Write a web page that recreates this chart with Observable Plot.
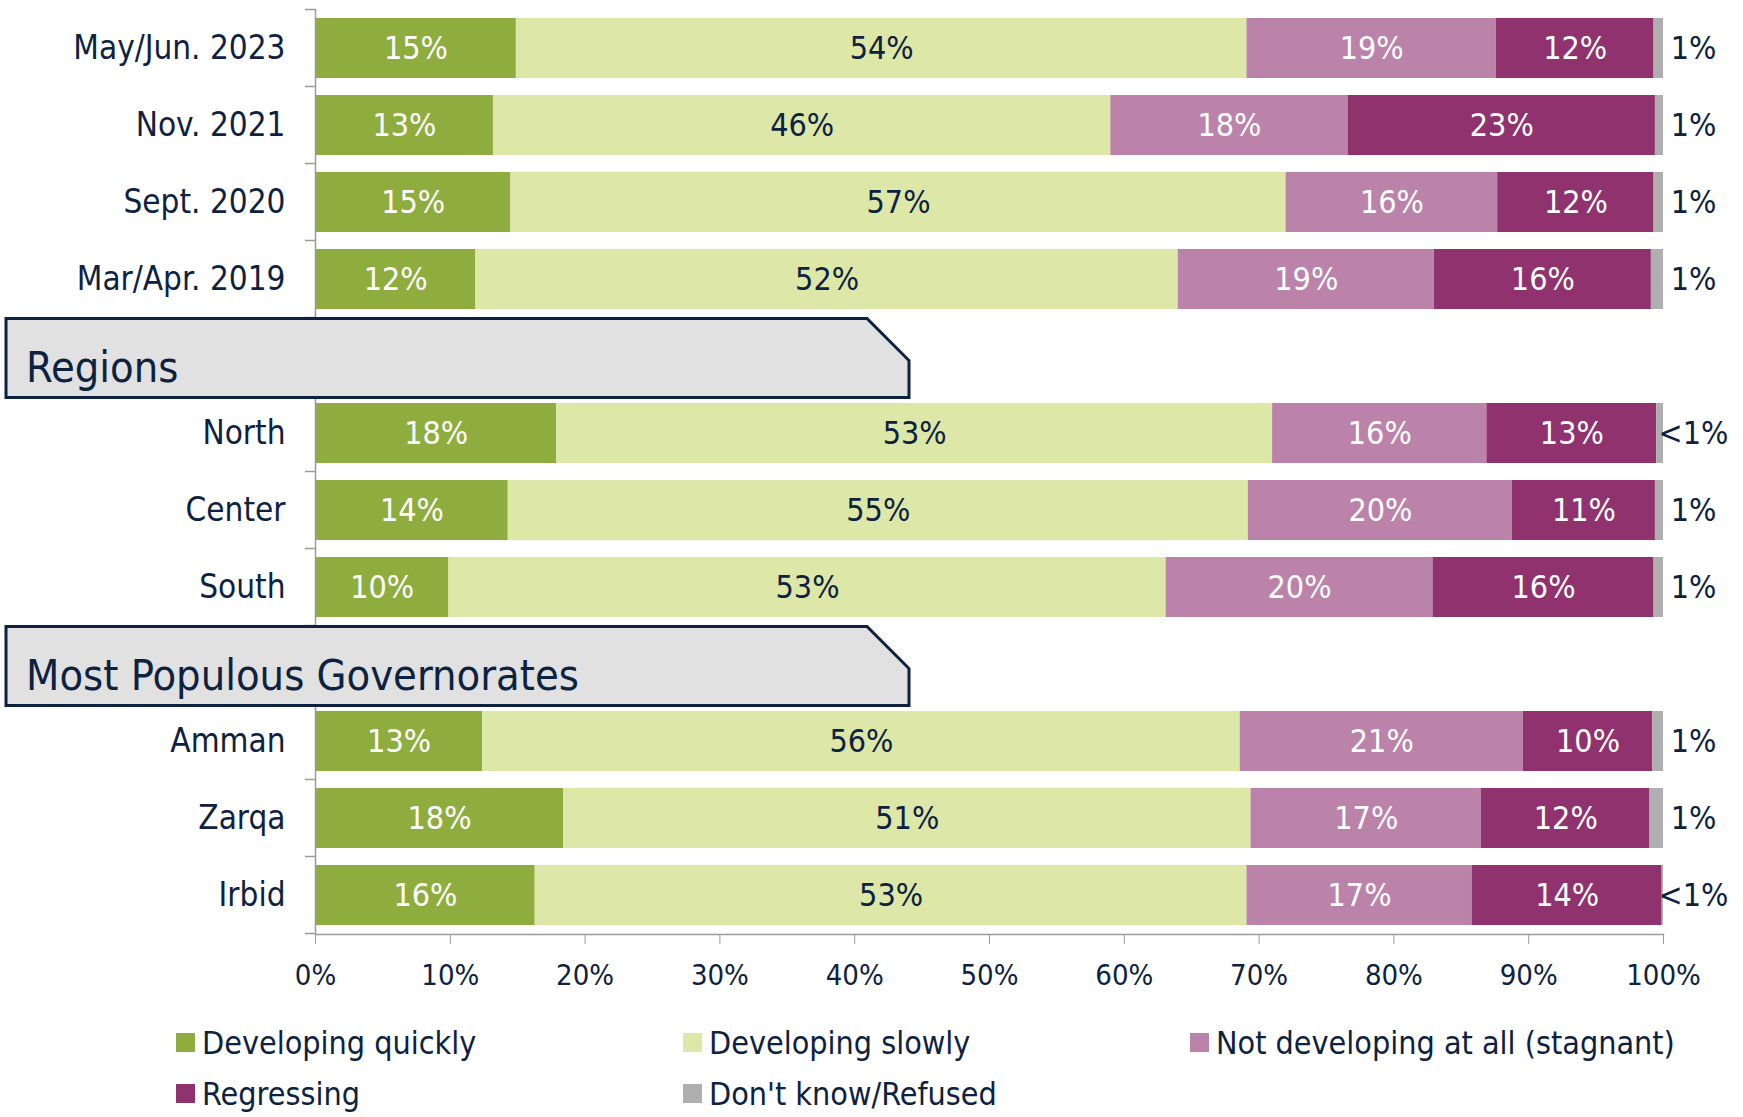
<!DOCTYPE html>
<html>
<head>
<meta charset="utf-8">
<script src="https://cdn.jsdelivr.net/npm/d3@7"></script>
<script src="https://cdn.jsdelivr.net/npm/@observablehq/plot@0.6"></script>
<style>
  html, body { margin: 0; padding: 0; background: #fff; }
  body { width: 1743px; height: 1117px; overflow: hidden; font-family: "Liberation Sans Narrow", "DejaVu Sans Condensed", sans-serif; color: #0d2240; }
  #legend { display: grid; grid-template-columns: 507px 507px 507px; grid-auto-rows: 51px; padding-left: 176px; padding-top: 12px; }
  .item { display: flex; align-items: center; font-size: 32px; color: #0d2240; white-space: nowrap; }
  .sw { width: 19px; height: 19px; margin-right: 7px; flex: none; }
</style>
</head>
<body>
<div id="chart"></div>
<div id="legend"></div>
<script>
// Row order (top to bottom); header slots included as band positions
const rows = ["May/Jun. 2023", "Nov. 2021", "Sept. 2020", "Mar/Apr. 2019",
  "§Regions", "North", "Center", "South",
  "§Most Populous Governorates", "Amman", "Zarqa", "Irbid"];
const headers = ["§Regions", "§Most Populous Governorates"];
const categories = ["Developing quickly", "Developing slowly", "Not developing at all (stagnant)", "Regressing", "Don't know/Refused"];
const colors = ["#8fad3e", "#dde7a7", "#bb83a9", "#8f326d", "#afafaf"];
const labelColors = ["#ffffff", "#0d2240", "#ffffff", "#ffffff", "#0d2240"];

// Bar shares, one array per category
const quickly  = [14.9, 13.2, 14.5, 11.9, 17.9, 14.3, 9.9, 12.4, 18.4, 16.3];
const slowly   = [54.2, 45.8, 57.5, 52.1, 53.1, 54.9, 53.2, 56.2, 51.0, 52.8];
const stagnant = [18.5, 17.6, 15.7, 19.0, 15.9, 19.6, 19.8, 21.0, 17.1, 16.7];
const regress  = [11.7, 22.8, 11.6, 16.1, 12.6, 10.6, 16.4, 9.6, 12.5, 14.1];
const dk       = [0.7, 0.6, 0.7, 0.9, 0.5, 0.6, 0.7, 0.8, 1.0, 0.1];
// Printed labels
const quicklyLab  = ["15%", "13%", "15%", "12%", "18%", "14%", "10%", "13%", "18%", "16%"];
const slowlyLab   = ["54%", "46%", "57%", "52%", "53%", "55%", "53%", "56%", "51%", "53%"];
const stagnantLab = ["19%", "18%", "16%", "19%", "16%", "20%", "20%", "21%", "17%", "17%"];
const regressLab  = ["12%", "23%", "12%", "16%", "13%", "11%", "16%", "10%", "12%", "14%"];
const dkLab       = ["1%", "1%", "1%", "1%", "<1%", "1%", "1%", "1%", "1%", "<1%"];
const xTicks = [0, 10, 20, 30, 40, 50, 60, 70, 80, 90, 100];

const dataRows = rows.filter(r => !headers.includes(r));
const seriesVals = [quickly, slowly, stagnant, regress, dk];
const seriesLabs = [quicklyLab, slowlyLab, stagnantLab, regressLab, dkLab];
const long = [];
dataRows.forEach((r, i) => {
  categories.forEach((c, k) => {
    long.push({row: r, cat: c, k, value: seriesVals[k][i], label: seriesLabs[k][i]});
  });
});
const inner = long.filter(d => d.k < 4);
const outer = long.filter(d => d.k === 4);

const FONT = '"Liberation Sans Narrow", "DejaVu Sans Condensed", sans-serif';
const navy = "#0d2240";
const axisGray = "#9a9a9a";

const plot = Plot.plot({
  width: 1743,
  height: 1005,
  marginLeft: 315,
  marginRight: 80,
  marginTop: 9,
  marginBottom: 71,
  style: {fontFamily: FONT, background: "#fff", color: navy, overflow: "visible"},
  x: {domain: [0, 100]},
  y: {domain: rows, paddingInner: 0.22, paddingOuter: 0.11},
  color: {domain: categories, range: colors},
  marks: [
    Plot.barX(long, Plot.stackX({x: "value", y: "row", fill: "cat", order: null})),
    Plot.text(inner, Plot.stackX({x: "value", y: "row", z: "cat", order: null, text: "label",
      fill: d => labelColors[d.k], fontSize: 32})),
    Plot.text(outer, {y: "row", text: "label", frameAnchor: "right", textAnchor: "middle", dx: 30, fill: navy, fontSize: 32}),
    Plot.ruleX([0], {stroke: axisGray, strokeWidth: 1.5}),
    Plot.frame({anchor: "bottom", stroke: axisGray, strokeWidth: 1.5}),
    Plot.axisX({ticks: xTicks, tickSize: 10, tickPadding: 20, stroke: axisGray, fill: navy, fontSize: 29,
      tickFormat: d => d + "%", label: null}),
    Plot.axisY({tickSize: 0, tickPadding: 30, fill: navy, fontSize: 33, label: null,
      tickFormat: d => d.startsWith("§") ? "" : d})
  ]
});
document.getElementById("chart").appendChild(plot);

// Decorations: boundary ticks on y axis and section header boxes
const svg = d3.select(plot);
const ys = plot.scale("y");
const xs = plot.scale("x");
const step = ys.step, bw = ys.bandwidth;
const x0 = xs.apply(0);
const bounds = rows.map(r => ys.apply(r) - (step - bw) / 2);
bounds.push(bounds[bounds.length - 1] + step);
const g = svg.append("g");
bounds.forEach(b => {
  g.append("line").attr("x1", x0 - 10).attr("x2", x0).attr("y1", b).attr("y2", b)
    .attr("stroke", axisGray).attr("stroke-width", 1.5);
});
headers.forEach(h => {
  const top = ys.apply(h) - (step - bw) / 2 + 1;
  const bot = top + step + 2;
  const left = 6, right = 909, cut = 42;
  g.append("path")
    .attr("d", `M${left},${top} L${right - cut},${top} L${right},${top + cut} L${right},${bot} L${left},${bot} Z`)
    .attr("fill", "#e1e1e1").attr("stroke", navy).attr("stroke-width", 3);
  g.append("text").attr("x", left + 20).attr("y", bot - 16)
    .attr("fill", navy).attr("font-size", 43).attr("font-family", FONT)
    .attr("text-anchor", "start")
    .text(h.slice(1));
});

// Legend
const legend = document.getElementById("legend");
categories.forEach((c, k) => {
  const it = document.createElement("div");
  it.className = "item";
  it.innerHTML = `<span class="sw" style="background:${colors[k]}"></span><span>${c}</span>`;
  legend.appendChild(it);
});
</script>
</body>
</html>
